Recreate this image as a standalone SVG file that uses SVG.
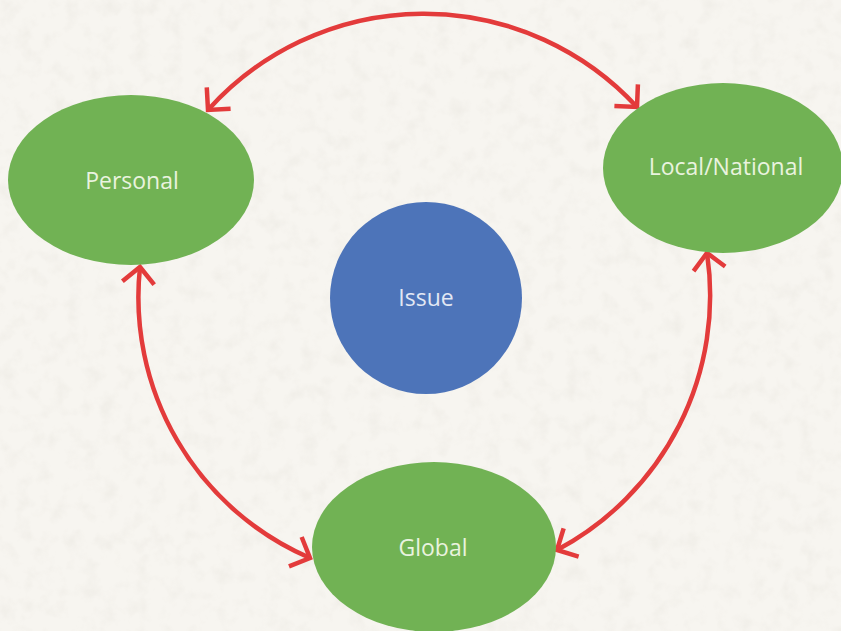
<svg xmlns="http://www.w3.org/2000/svg" width="841" height="631" viewBox="0 0 841 631">
<defs>
<style>
.node-green{fill:#71B254;}
.node-blue{fill:#4D74B9;}
.label{font-family:"Open Sans","Liberation Sans",sans-serif;font-size:23px;fill:#E9F3DF;text-anchor:middle;dominant-baseline:central;}
.label-blue{fill:#E2E8F4;}
.conn{fill:none;stroke:#E33B3B;stroke-width:4.5;}
</style>
<marker id="arr" markerUnits="userSpaceOnUse" viewBox="-20 -20 24 40" refX="0" refY="0" markerWidth="24" markerHeight="40" orient="auto-start-reverse" overflow="visible">
<path d="M-16,-16 L0,0 L-16,16" fill="none" stroke="#E33B3B" stroke-width="4.5" stroke-linejoin="miter"/>
</marker>
<filter id="paper" x="0" y="0" width="100%" height="100%">
<feTurbulence type="fractalNoise" baseFrequency="0.06" numOctaves="3" seed="4"/>
<feColorMatrix type="matrix" values="0 0 0 0 0.55  0 0 0 0 0.52  0 0 0 0 0.45  0 0 0 -1.4 0.75"/>
</filter>
</defs>
<rect width="841" height="631" fill="#F7F5F0"/>
<rect width="841" height="631" filter="url(#paper)" opacity="0.2"/>
<g id="connectors">
<path class="conn" d="M208,110 A290,290 0 0 1 637,107" marker-start="url(#arr)" marker-end="url(#arr)"/>
<path class="conn" d="M140,267 A284,284 0 0 0 310,558" marker-start="url(#arr)" marker-end="url(#arr)"/>
<path class="conn" d="M707,253 A288,288 0 0 1 557,550" marker-start="url(#arr)" marker-end="url(#arr)"/>
</g>
<g id="personal">
<ellipse class="node-green" cx="131" cy="180" rx="123" ry="85"/>
<text class="label" x="132" y="180">Personal</text>
</g>
<g id="local-national">
<ellipse class="node-green" cx="723" cy="168" rx="120" ry="85"/>
<text class="label" x="726" y="166">Local/National</text>
</g>
<g id="issue">
<circle class="node-blue" cx="426" cy="298" r="96"/>
<text class="label label-blue" x="426" y="297">Issue</text>
</g>
<g id="global">
<ellipse class="node-green" cx="434" cy="547" rx="122" ry="85"/>
<text class="label" x="433" y="547">Global</text>
</g>
</svg>
